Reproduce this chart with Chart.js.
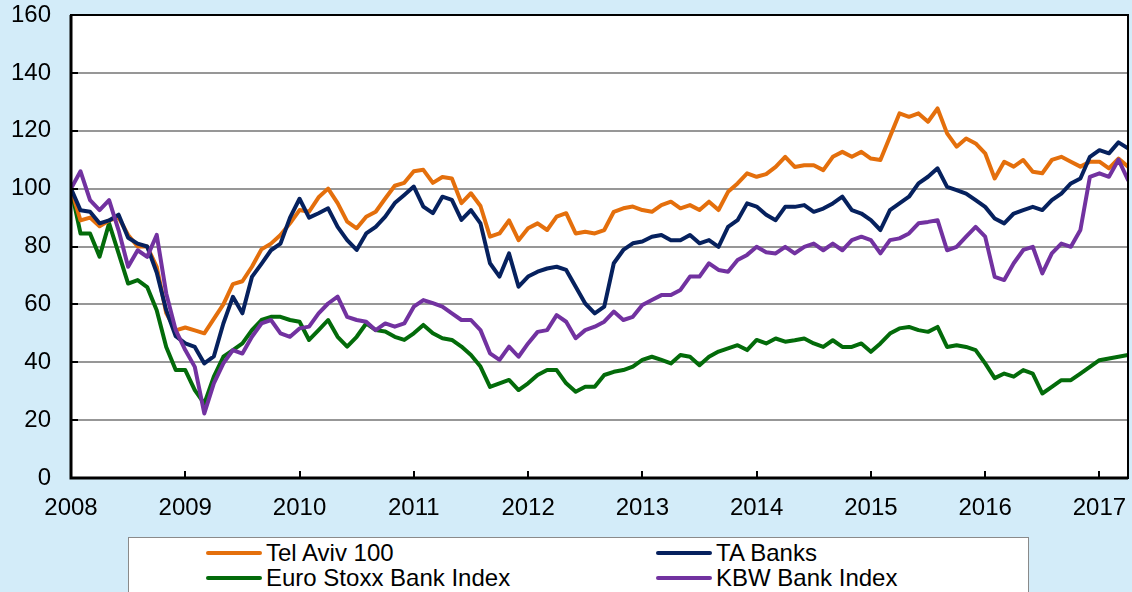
<!DOCTYPE html>
<html>
<head>
<meta charset="utf-8">
<script src="https://cdn.jsdelivr.net/npm/chart.js@4"></script>
<style>
  body { margin: 0; background: #d3ecf9; }
  #wrap { position: relative; width: 1132px; height: 592px; overflow: hidden; }
  #legend {
    position: absolute; left: 128px; top: 537px; width: 899px; height: 70px;
    background: #fff; border: 1px solid #8a8a8a;
    font-family: "Liberation Sans", Arial, sans-serif; font-size: 24px; color: #000;
  }
  .item { position: absolute; height: 25px; line-height: 25px; white-space: nowrap; }
  .item i { position: absolute; left: 0; top: 11px; width: 56px; height: 4px; border-radius: 2px; }
  .item span { position: absolute; left: 60px; top: 0; }
</style>
</head>
<body>
<div id="wrap">
  <canvas id="chart" width="1132" height="592"></canvas>
  <div id="legend"></div>
</div>
<script>
// monthly readings, Jan 2008 = 100, last point end of March 2017
const startYear = 2008;
const yearTicks = [2008, 2009, 2010, 2011, 2012, 2013, 2014, 2015, 2016, 2017];
const valueTicks = [0, 20, 40, 60, 80, 100, 120, 140, 160];

const telAviv100 = [
  100, 89, 90, 87, 89, 90, 84, 80, 80, 73, 57, 51,
  52, 51, 50, 55, 60, 67, 68, 73, 79, 81, 84, 88,
  92.6, 92, 97, 100, 95, 88.6, 86.3, 90.3, 92, 96.6, 101, 102,
  106, 106.5, 102, 104, 103.5, 95, 98.4, 94, 83.4, 84.5, 89, 82.2,
  86.3, 88, 85.7, 90.3, 91.5, 84.5, 85.1, 84.5, 85.7, 92, 93.2, 93.8,
  92.6, 92, 94.3, 95.5, 93.2, 94.3, 92.6, 95.5, 92.6, 98.9, 101.8, 105.3,
  104.1, 105, 107.5, 111, 107.5, 108.1, 108.1, 106.4, 111, 112.7, 111, 112.7,
  110.4, 109.9, 117.9, 126, 124.8, 126, 123.1, 127.7, 119.1, 114.5, 117.3, 115.6,
  112.2, 103.5, 109.3, 107.6, 109.9, 105.8, 105.3, 109.9, 111, 109.3, 107.6, 109.3,
  109.3, 107, 110.4, 107.6
];
const taBanks = [
  100, 92.5, 92, 88, 89, 91, 83, 81, 80, 71, 58, 49,
  46.5, 45.3, 39.6, 42, 53.4, 62.6, 56.9, 69.5, 74, 78.7, 81, 90,
  96.5, 90, 91.5, 93.2, 86.8, 82.2, 78.8, 84.5, 86.8, 90.3, 95, 97.8,
  100.7, 93.8, 91.5, 97.2, 96.1, 89.2, 92.6, 88, 74.2, 69.6, 77.6, 66.1,
  69.6, 71.3, 72.4, 73, 71.9, 66.1, 60.3, 56.9, 59.2, 74.2, 78.8, 81.1,
  81.7, 83.4, 84, 82.2, 82.2, 84, 81.1, 82.2, 79.9, 86.8, 89.1, 94.9,
  93.8, 91, 89.1, 93.7, 93.7, 94.3, 92, 93.1, 94.9, 97.2, 92.6, 91.4,
  89.1, 85.7, 92.6, 94.9, 97.2, 101.8, 104.1, 107, 100.6, 99.5, 98.3, 96,
  93.7, 89.7, 88, 91.4, 92.6, 93.7, 92.6, 96, 98.3, 101.8, 103.5, 111,
  113.3, 112.2, 116, 113.9
];
const euroStoxxBanks = [
  100, 84.5, 84.5, 76.5, 88, 77.6, 67.2, 68.4, 66, 58, 45.3, 37.3,
  37.3, 30.4, 25.7, 35, 41.9, 44.2, 46.5, 51.1, 54.6, 55.7, 55.7, 54.6,
  54, 47.7, 51.1, 54.6, 48.8, 45.4, 48.8, 53.4, 51.1, 50.6, 48.8, 47.7,
  50, 52.9, 50, 48.3, 47.7, 45.4, 42.5, 38.5, 31.5, 32.7, 33.9, 30.4,
  32.7, 35.6, 37.3, 37.3, 32.7, 29.8, 31.5, 31.5, 35.6, 36.7, 37.3, 38.5,
  40.8, 41.9, 40.8, 39.6, 42.5, 41.9, 39, 41.9, 43.7, 44.8, 45.9, 44.2,
  47.7, 46.5, 48.2, 47.1, 47.6, 48.2, 46.5, 45.3, 47.6, 45.3, 45.3, 46.5,
  43.6, 46.5, 49.9, 51.7, 52.2, 51.1, 50.5, 52.2, 45.3, 45.9, 45.3, 44.2,
  39.6, 34.5, 36.1, 35, 37.3, 36.1, 29.2, 31.5, 33.8, 33.8, 36.1, 38.4,
  40.7, 41.3, 41.9, 42.5
];
const kbwBanks = [
  100, 106, 96, 92.6, 96, 85.6, 73, 78.7, 76.4, 84, 63.8, 51.1,
  44.2, 38.4, 22.3, 32.7, 39.6, 44.2, 43, 48.8, 53.4, 54.6, 50, 48.8,
  51.7, 52.3, 56.9, 60.3, 62.7, 55.7, 54.6, 54, 51.1, 53.4, 52.3, 53.4,
  59.2, 61.5, 60.4, 59.2, 56.9, 54.6, 54.6, 51.1, 43.1, 40.8, 45.4, 41.9,
  46.5, 50.5, 51.1, 56.3, 54, 48.3, 51.1, 52.3, 54, 57.5, 54.6, 55.7,
  59.8, 61.5, 63.2, 63.2, 65, 69.6, 69.6, 74.2, 71.9, 71.3, 75.3, 77.1,
  79.9, 78, 77.6, 79.9, 77.6, 79.9, 81, 78.7, 81, 78.7, 82.2, 83.4,
  82.2, 77.6, 82.2, 82.8, 84.5, 88, 88.5, 89.1, 78.7, 79.9, 83.4, 86.8,
  83.4, 69.5, 68.4, 74.2, 78.8, 79.9, 70.7, 77.6, 81, 79.9, 85.7, 104.1,
  105.3, 104.1, 110, 103
];

const dates = telAviv100.map((_, i) => startYear + i / 12);

const series = [
  { label: 'Tel Aviv 100', values: telAviv100, color: '#e46f0c' },
  { label: 'TA Banks', values: taBanks, color: '#06215e' },
  { label: 'Euro Stoxx Bank Index', values: euroStoxxBanks, color: '#036b0a' },
  { label: 'KBW Bank Index', values: kbwBanks, color: '#7232a0' }
];

// purple on top, then navy, orange, green at the bottom
const drawOrder = [3, 1, 0, 2];

const legend = document.getElementById('legend');
const slots = [[77, 2], [527, 2], [77, 27], [527, 27]];
series.forEach((s, k) => {
  const d = document.createElement('div');
  d.className = 'item';
  d.style.left = slots[k][0] + 'px';
  d.style.top = slots[k][1] + 'px';
  d.innerHTML = '<i style="background:' + s.color + '"></i><span>' + s.label + '</span>';
  legend.appendChild(d);
});

const frame = {
  id: 'frame',
  beforeDatasetsDraw(chart) {
    const { ctx, chartArea: a } = chart;
    ctx.save();
    ctx.fillStyle = '#fff';
    ctx.fillRect(a.left, a.top, a.right - a.left, a.bottom - a.top);
    ctx.strokeStyle = '#979797';
    ctx.lineWidth = 2;
    const y = chart.scales.y;
    valueTicks.slice(1, -1).forEach(v => {
      const py = Math.round(y.getPixelForValue(v));
      ctx.beginPath(); ctx.moveTo(a.left, py); ctx.lineTo(a.right, py); ctx.stroke();
    });
    ctx.restore();
  },
  afterDraw(chart) {
    const { ctx, chartArea: a } = chart;
    const x = chart.scales.x, y = chart.scales.y;
    ctx.save();
    ctx.strokeStyle = '#000';
    ctx.lineWidth = 2;
    valueTicks.forEach(v => {
      const py = Math.round(y.getPixelForValue(v));
      ctx.beginPath(); ctx.moveTo(a.left, py); ctx.lineTo(a.left + 7, py); ctx.stroke();
    });
    yearTicks.forEach(v => {
      const px = Math.round(x.getPixelForValue(v));
      ctx.beginPath(); ctx.moveTo(px, a.bottom); ctx.lineTo(px, a.bottom - 7); ctx.stroke();
    });
    ctx.strokeRect(a.left, a.top, a.right - a.left, a.bottom - a.top);
    ctx.lineWidth = 3;
    ctx.beginPath();
    ctx.moveTo(a.left, a.top); ctx.lineTo(a.left, a.bottom); ctx.lineTo(a.right, a.bottom);
    ctx.stroke();
    ctx.restore();
  }
};

const noOverhang = s => {
  s.paddingTop = 0; s.paddingBottom = 0; s.paddingLeft = 0; s.paddingRight = 0;
};

new Chart(document.getElementById('chart'), {
  type: 'line',
  data: {
    datasets: drawOrder.map(k => ({
      label: series[k].label,
      data: series[k].values.map((v, i) => ({ x: dates[i], y: v })),
      borderColor: series[k].color,
      borderWidth: 4,
      pointRadius: 0,
      tension: 0,
      borderJoinStyle: 'round',
      borderCapStyle: 'round'
    }))
  },
  options: {
    responsive: false,
    animation: false,
    layout: { padding: { top: 15, right: 4, left: 0, bottom: 0 } },
    plugins: { legend: { display: false }, tooltip: { enabled: false } },
    scales: {
      x: {
        type: 'linear',
        min: 2008,
        max: 2017.25,
        afterBuildTicks: s => { s.ticks = yearTicks.map(v => ({ value: v })); },
        afterFit: s => { s.height = 114; noOverhang(s); },
        grid: { display: false, drawTicks: false },
        border: { display: false },
        ticks: {
          autoSkip: false, maxRotation: 0, padding: 16, color: '#000',
          font: { family: '"Liberation Sans", Arial, sans-serif', size: 24 },
          callback: v => String(v)
        }
      },
      y: {
        min: 0,
        max: 160,
        afterBuildTicks: s => { s.ticks = valueTicks.map(v => ({ value: v })); },
        afterFit: s => { s.width = 71; noOverhang(s); },
        grid: { display: false, drawTicks: false },
        border: { display: false },
        ticks: {
          padding: 20, color: '#000',
          font: { family: '"Liberation Sans", Arial, sans-serif', size: 24 }
        }
      }
    }
  },
  plugins: [frame]
});
</script>
</body>
</html>
